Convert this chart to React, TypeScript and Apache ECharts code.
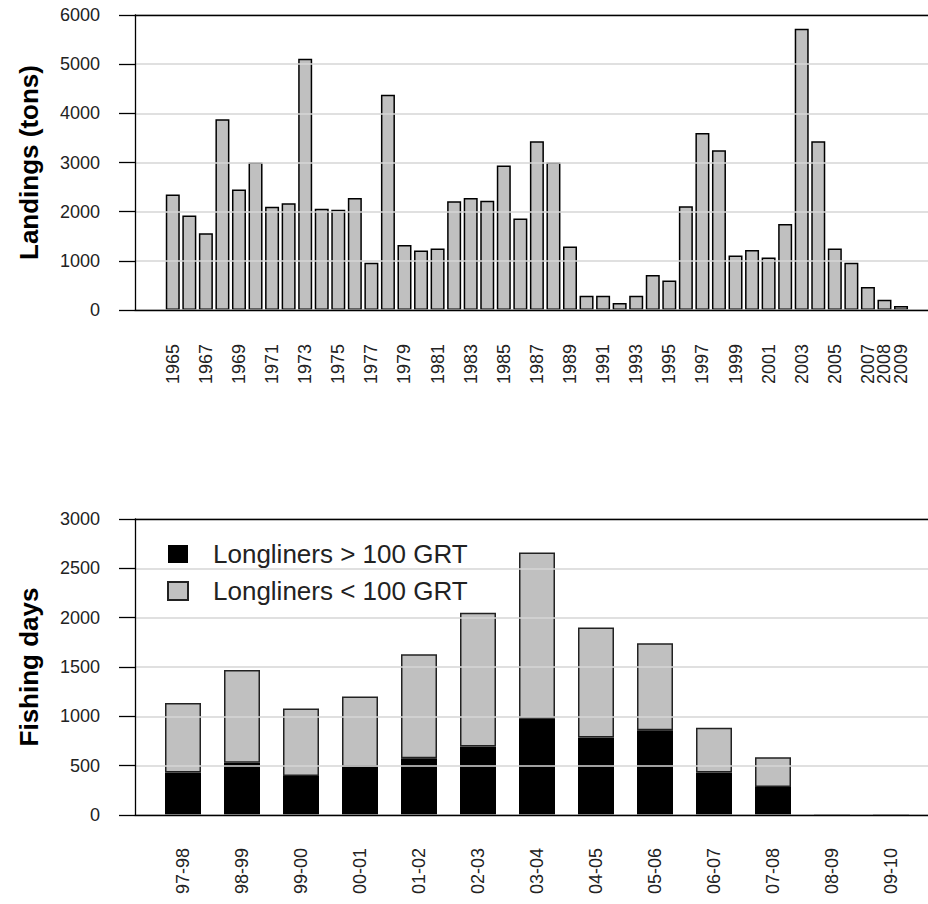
import React, { useEffect, useRef } from "react";
import * as echarts from "echarts";

const years = [
  "1965", "1966", "1967", "1968", "1969", "1970", "1971", "1972", "1973", "1974",
  "1975", "1976", "1977", "1978", "1979", "1980", "1981", "1982", "1983", "1984",
  "1985", "1986", "1987", "1988", "1989", "1990", "1991", "1992", "1993", "1994",
  "1995", "1996", "1997", "1998", "1999", "2000", "2001", "2002", "2003", "2004",
  "2005", "2006", "2007", "2008", "2009",
];
const landingsTons = [
  2350, 1920, 1560, 3880, 2450, 3000, 2100, 2170, 5110, 2060,
  2040, 2280, 960, 4380, 1320, 1210, 1250, 2210, 2280, 2220,
  2940, 1860, 3430, 3000, 1290, 290, 290, 140, 290, 710,
  600, 2110, 3600, 3250, 1110, 1220, 1070, 1750, 5720, 3430,
  1250, 960, 470, 210, 80,
];
const yearLabelsShown = [
  "1965", "1967", "1969", "1971", "1973", "1975", "1977", "1979", "1981", "1983",
  "1985", "1987", "1989", "1991", "1993", "1995", "1997", "1999", "2001", "2003",
  "2005", "2007", "2008", "2009",
];

const seasons = [
  "97-98", "98-99", "99-00", "00-01", "01-02", "02-03", "03-04",
  "04-05", "05-06", "06-07", "07-08", "08-09", "09-10",
];
const longlinersOver100 = [430, 530, 395, 490, 575, 695, 980, 785, 860, 430, 285, 0, 0];
const longlinersUnder100 = [705, 940, 685, 710, 1055, 1355, 1680, 1115, 880, 455, 300, 0, 0];

const seriesNames = ["Longliners > 100 GRT", "Longliners < 100 GRT"];

const FONT = "'Liberation Sans', Arial, sans-serif";

function frameAxes(gridIndex: number) {
  const base = {
    gridIndex,
    type: "value" as const,
    min: 0,
    max: 1,
    z: 5,
    axisLine: { show: true, onZero: false, lineStyle: { color: "#000", width: 1.3 } },
    axisTick: { show: false },
    axisLabel: { show: false },
    splitLine: { show: false },
  };
  return [
    { ...base, position: "bottom" },
    { ...base, position: "top" },
  ];
}

function valueAxis(gridIndex: number, max: number, interval: number, name: string, nameGap: number) {
  return {
    gridIndex,
    type: "value",
    min: 0,
    max,
    interval,
    z: 5,
    name,
    nameLocation: "middle",
    nameGap,
    nameTextStyle: { fontSize: 26, fontWeight: "bold", color: "#000", fontFamily: FONT },
    axisLine: { show: true, lineStyle: { color: "#000", width: 1.3 } },
    axisTick: { show: true, inside: false, length: 16, lineStyle: { color: "#000", width: 1.3 } },
    axisLabel: {
      margin: 35,
      fontSize: 18,
      color: "#222",
      fontFamily: FONT,
      formatter: (v: number) => String(v),
    },
    splitLine: { show: true, lineStyle: { color: "#d6d6d6", width: 1.5 } },
  };
}

function hiddenValueAxis(gridIndex: number, max: number) {
  return { gridIndex, type: "value", min: 0, max, show: false };
}

export default function App() {
  const ref = useRef<HTMLDivElement>(null);

  useEffect(() => {
    if (!ref.current) return;
    const chart = echarts.init(ref.current, null, { renderer: "svg" });

    const option: any = {
      animation: false,
      backgroundColor: "#fff",
      textStyle: { fontFamily: FONT },
      grid: [
        { left: 135, top: 15, right: 0, height: 295 },
        { left: 164.5, top: 15, right: 18.7, height: 295 },
        { left: 135, top: 519, right: 0, height: 296 },
        { left: 153.5, top: 519, right: 7.5, height: 296 },
      ],
      xAxis: [
        ...frameAxes(0),
        {
          gridIndex: 1,
          type: "category",
          data: years,
          axisLine: { show: false },
          axisTick: { show: false },
          axisLabel: {
            rotate: 90,
            margin: 34,
            fontSize: 18,
            color: "#222",
            fontFamily: FONT,
            interval: 0,
            hideOverlap: false,
            formatter: (v: string) => (yearLabelsShown.includes(v) ? v : ""),
          },
        },
        ...frameAxes(2),
        {
          gridIndex: 3,
          type: "category",
          data: seasons,
          axisLine: { show: false },
          axisTick: { show: false },
          axisLabel: {
            rotate: 90,
            margin: 33,
            fontSize: 18,
            color: "#222",
            fontFamily: FONT,
            interval: 0,
          },
        },
      ],
      yAxis: [
        valueAxis(0, 6000, 1000, "Landings (tons)", 93),
        hiddenValueAxis(1, 6000),
        valueAxis(2, 3000, 500, "Fishing days", 93),
        hiddenValueAxis(3, 3000),
      ],
      legend: {
        data: seriesNames,
        orient: "vertical",
        left: 167,
        top: 541,
        padding: 0,
        itemWidth: 20,
        itemHeight: 18,
        itemGap: 11,
        icon: "rect",
        selectedMode: false,
        textStyle: { fontSize: 26, color: "#222", fontFamily: FONT, padding: [0, 0, 0, 20] },
      },
      series: [
        {
          type: "bar",
          xAxisIndex: 2,
          yAxisIndex: 1,
          data: landingsTons,
          barWidth: 14,
          z: 2,
          itemStyle: { color: "#c0c0c0", borderColor: "#000", borderWidth: 1.5 },
        },
        {
          name: seriesNames[0],
          type: "bar",
          stack: "days",
          xAxisIndex: 5,
          yAxisIndex: 3,
          data: longlinersOver100,
          barWidth: 36,
          z: 2,
          itemStyle: { color: "#000" },
        },
        {
          name: seriesNames[1],
          type: "bar",
          stack: "days",
          xAxisIndex: 5,
          yAxisIndex: 3,
          data: longlinersUnder100,
          barWidth: 36,
          z: 2,
          itemStyle: { color: "#c0c0c0", borderColor: "#222", borderWidth: 1.5 },
        },
      ],
    };

    chart.setOption(option);
    return () => chart.dispose();
  }, []);

  return (
    <div
      ref={ref}
      style={{ position: "absolute", left: 0, top: 0, width: 928, height: 904, background: "#fff" }}
    />
  );
}
